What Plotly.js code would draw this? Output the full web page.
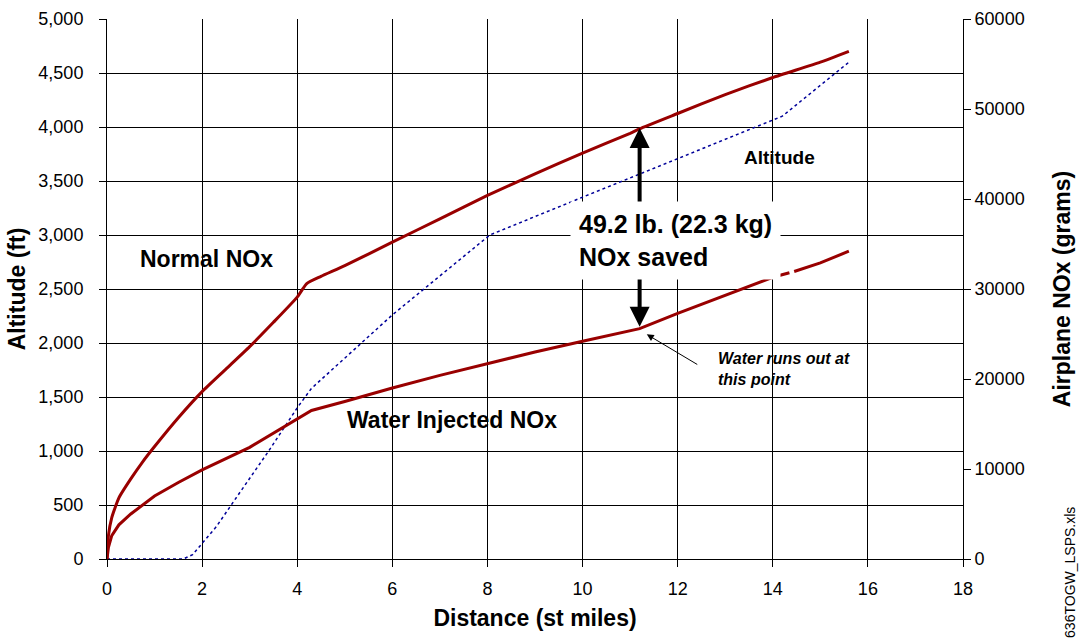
<!DOCTYPE html>
<html>
<head>
<meta charset="utf-8">
<script src="https://cdn.plot.ly/plotly-3.0.1.min.js"></script>
<style>html,body{margin:0;padding:0;background:#fff}#chart{width:1084px;height:638px}</style>
</head>
<body>
<div id="chart"></div>
<script>
// Altitude (ft) vs distance (st miles) - left axis
const altDist = [0, 1.6, 1.8, 2.3, 2.8, 3.4, 4.0, 4.3, 6, 8.05, 10, 12, 14.2, 15.6];
const altFt   = [0, 0, 40, 300, 620, 1000, 1400, 1580, 2260, 3000, 3350, 3710, 4100, 4600];

// Airplane NOx (grams) - right axis
const noxDist   = [0, 0.03, 0.1, 0.25, 0.5, 0.75, 1, 1.5, 2, 2.5, 3, 3.5, 4, 4.2, 4.5, 5, 6, 7, 8, 9, 10, 11, 11.2, 12, 13, 14, 15, 15.6];
const normalNOx = [0, 2600, 4600, 6800, 8900, 10800, 12500, 15700, 18600, 21100, 23600, 26300, 29100, 30600, 31400, 32600, 35200, 37800, 40400, 42800, 45100, 47300, 47800, 49500, 51600, 53500, 55200, 56400];

const waterDist = [0, 0.03, 0.1, 0.25, 0.5, 1, 1.5, 2, 3, 4, 4.3, 5, 6, 7, 8, 9, 10, 11.2, 12, 13, 14, 14.35, 14.37, 14.45, 15, 15.6];
const waterNOx  = [0, 1300, 2600, 3800, 5000, 7000, 8500, 9900, 12400, 15500, 16500, 17500, 19000, 20400, 21700, 23000, 24200, 25600, 27300, 29300, 31300, 31800, null, 31950, 32900, 34200];

const xTicks = [0, 2, 4, 6, 8, 10, 12, 14, 16, 18];

const FONT = '"Liberation Sans", Arial, sans-serif';
const RED = '#990000';

const traces = [
  {x: altDist, y: altFt, yaxis: 'y', mode: 'lines', name: 'Altitude',
   line: {color: '#000099', width: 1.5, dash: 'dot'}},
  {x: noxDist, y: normalNOx, yaxis: 'y2', mode: 'lines', name: 'Normal NOx',
   line: {color: RED, width: 3, shape: 'spline', smoothing: 0.5}},
  {x: waterDist, y: waterNOx, yaxis: 'y2', mode: 'lines', name: 'Water Injected NOx',
   line: {color: RED, width: 3}, connectgaps: false}
];

const layout = {
  width: 1084, height: 638,
  margin: {l: 107, r: 121, t: 19, b: 79},
  paper_bgcolor: '#fff', plot_bgcolor: '#fff',
  showlegend: false,
  font: {family: FONT, size: 18, color: '#000'},
  xaxis: {
    range: [0, 18], tickvals: xTicks, ticktext: xTicks.map(String),
    showgrid: true, gridcolor: '#000', gridwidth: 1,
    showline: true, linecolor: '#000', linewidth: 1,
    ticks: 'outside', ticklen: 7, tickcolor: '#000',
    ticklabelstandoff: 6,
    zeroline: false, mirror: false,
    tickfont: {size: 18},
    title: {text: '<b>Distance (st miles)</b>', font: {size: 23}, standoff: 12}
  },
  yaxis: {
    range: [0, 5000], dtick: 500, tickformat: ',d',
    showgrid: true, gridcolor: '#000', gridwidth: 1,
    showline: true, linecolor: '#000', linewidth: 1,
    ticks: 'outside', ticklen: 7, tickcolor: '#000',
    ticklabelstandoff: 12,
    zeroline: false, tickfont: {size: 18},
    title: {text: '<b>Altitude (ft)</b>', font: {size: 23}, standoff: 6}
  },
  yaxis2: {
    range: [0, 60000], dtick: 10000, tickformat: 'd',
    overlaying: 'y', side: 'right', showgrid: false,
    showline: true, linecolor: '#000', linewidth: 1,
    ticks: 'outside', ticklen: 7, tickcolor: '#000',
    zeroline: false, tickfont: {size: 18},
    title: {text: '<b>Airplane NOx (grams)</b>', font: {size: 23}, standoff: 30}
  },
  annotations: [
    {x: 2.1, y: 2780, xref: 'x', yref: 'y', text: '<b>Normal NOx</b>', showarrow: false,
     font: {size: 23}},
    {x: 7.25, y: 1290, xref: 'x', yref: 'y', text: '<b>Water Injected NOx</b>', showarrow: false,
     font: {size: 23}},
    {x: 14.15, y: 3720, xref: 'x', yref: 'y', text: '<b>Altitude</b>', showarrow: false,
     font: {size: 19}},
    // up arrow
    {x: 11.2, y: 3990, xref: 'x', yref: 'y', text: '', showarrow: true,
     ax: 0, ay: 78, arrowhead: 2, arrowsize: 1, arrowwidth: 4, arrowcolor: '#000'},
    // down arrow
    {x: 11.2, y: 2150, xref: 'x', yref: 'y', text: '', showarrow: true,
     ax: 0, ay: -50, arrowhead: 2, arrowsize: 1, arrowwidth: 4, arrowcolor: '#000'},
    {x: 11.96, y: 2950, xref: 'x', yref: 'y',
     text: '<b>49.2 lb. (22.3 kg)</b><br><b>NOx saved</b>', showarrow: false,
     align: 'left', bgcolor: '#fff', borderpad: 8, font: {size: 25}},
    // water runs out
    {x: 11.35, y: 2080, xref: 'x', yref: 'y', text: '', showarrow: true,
     ax: 52, ay: 31, arrowhead: 2, arrowsize: 1.4, arrowwidth: 1, arrowcolor: '#000'},
    {x: 12.8, y: 1760, xref: 'x', yref: 'y',
     text: '<b><i>Water runs out at</i></b><br><b><i>this point</i></b>', showarrow: false,
     xanchor: 'left', align: 'left', font: {size: 16}},
    {x: 1.136, y: -0.025, xref: 'paper', yref: 'paper', text: '636TOGW_LSPS.xls',
     showarrow: false, textangle: -90, yanchor: 'middle', font: {size: 14}}
  ]
};

Plotly.newPlot('chart', traces, layout, {displayModeBar: false, staticPlot: true});
</script>
</body>
</html>
